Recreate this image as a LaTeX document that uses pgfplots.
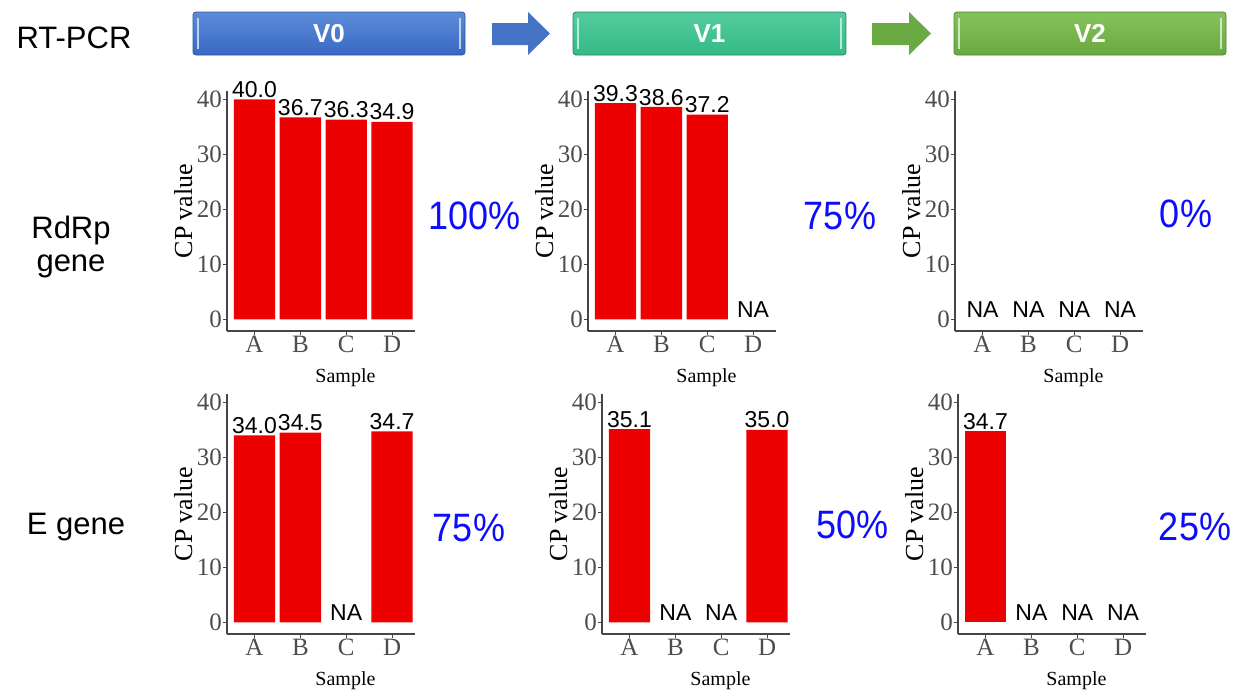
\documentclass[border=0pt]{standalone}
\usepackage{fontspec}
\setmainfont{Liberation Sans}
\newfontfamily\serif{Liberation Serif}
\usepackage{pgfplots}
\pgfplotsset{compat=1.18}
\usepackage{pgfplotstable}

\definecolor{barred}{RGB}{236,0,0}
\definecolor{pctblue}{RGB}{12,12,255}
\definecolor{tickgray}{RGB}{77,77,77}
\definecolor{axgray}{RGB}{70,70,70}
\definecolor{bluetop}{RGB}{92,140,216}
\definecolor{bluebot}{RGB}{56,104,196}
\definecolor{blueedge}{RGB}{47,85,151}
\definecolor{tealtop}{RGB}{84,204,158}
\definecolor{tealbot}{RGB}{52,186,134}
\definecolor{tealedge}{RGB}{40,130,95}
\definecolor{greentop}{RGB}{134,194,92}
\definecolor{greenbot}{RGB}{104,170,62}
\definecolor{greenedge}{RGB}{84,130,53}
\definecolor{arrowblue}{RGB}{68,114,196}
\definecolor{arrowgreen}{RGB}{106,170,66}

\newcommand\fs[1]{\fontsize{#1}{#1}\selectfont}

% RdRp gene
\pgfplotstableread{
x y lab
1 40.0 40.0
2 36.7 36.7
3 36.3 36.3
4 35.9 34.9
}\rAa
\pgfplotstableread{
x y lab
1 39.3 39.3
2 38.6 38.6
3 37.2 37.2
4 0 NA
}\rAb
\pgfplotstableread{
x y lab
1 0 NA
2 0 NA
3 0 NA
4 0 NA
}\rAc
% E gene
\pgfplotstableread{
x y lab
1 34.0 34.0
2 34.5 34.5
3 0 NA
4 34.7 34.7
}\rBa
\pgfplotstableread{
x y lab
1 35.1 35.1
2 0 NA
3 0 NA
4 35.0 35.0
}\rBb
\pgfplotstableread{
x y lab
1 34.7 34.7
2 0 NA
3 0 NA
4 0 NA
}\rBc

\pgfplotsset{cp/.style={
  width=188pt, height=240pt, scale only axis,
  anchor=south west,
  xmin=0.4, xmax=4.5, ymin=-2.1, ymax=41.5,
  axis x line*=bottom, axis y line*=left,
  axis line style={-, draw=axgray, line width=1.3pt},
  xtick={1,2,3,4}, xticklabels={A,B,C,D},
  ytick={0,10,20,30,40},
  tick align=outside, major tick length=4pt,
  major tick style={draw=axgray, line width=1pt},
  /pgf/number format/assume math mode=true,
  ticklabel style={font=\serif\fs{25}, text=tickgray},
  xticklabel style={inner sep=1pt},
  yticklabel style={inner sep=1pt},
  xlabel={Sample}, ylabel={CP value},
  xlabel style={font=\serif\fs{20}, at={(ticklabel cs:0.63)}, anchor=near ticklabel, yshift=-11pt},
  ylabel style={font=\serif\fs{26}, yshift=0pt},
  clip=false,
  point meta=explicit symbolic,
}}
\pgfplotsset{
  cpbar/.style={ybar, bar width=0.9, bar shift=0pt, fill=barred, draw=none,
    restrict y to domain=0.5:100},
  cplab/.style={ybar, bar width=0.9, bar shift=0pt, fill=none, draw=none,
    nodes near coords,
    every node near coord/.style={font=\fs{23}, text=black, anchor=south, inner sep=1.5pt}}}
\newcommand\cpplot[1]{%
  \addplot[cpbar] table[x=x,y=y,meta=lab]{#1};
  \addplot[cplab] table[x=x,y=y,meta=lab]{#1};}

\begin{document}
\begin{tikzpicture}
\path[use as bounding box] (0,0) rectangle (1234pt,-689pt);

\begin{scope}[x=1pt,y=-1pt]
  % header
  \node[font=\fs{31}] at (74,38) {RT-PCR};
  % V0
  \shade[top color=bluetop, bottom color=bluebot, rounded corners=3pt] (193,12) rectangle (465,55);
  \draw[blueedge, line width=0.8pt, rounded corners=3pt] (193,12) rectangle (465,55);
  \draw[line width=2pt, color=white!60!bluetop] (198,18) -- (198,49);
  \draw[line width=2pt, color=white!60!bluetop] (460,18) -- (460,49);
  \node[font=\bfseries\fs{26}, text=white] at (329,33.5) {V0};
  % arrow 1
  \fill[arrowblue] (492,23) -- (528,23) -- (528,12) -- (550,33.5) -- (528,55) -- (528,45) -- (492,45) -- cycle;
  % V1
  \shade[top color=tealtop, bottom color=tealbot, rounded corners=3pt] (573,12) rectangle (846,55);
  \draw[tealedge, line width=0.8pt, rounded corners=3pt] (573,12) rectangle (846,55);
  \draw[line width=2pt, color=white!60!tealtop] (578,18) -- (578,49);
  \draw[line width=2pt, color=white!60!tealtop] (841,18) -- (841,49);
  \node[font=\bfseries\fs{26}, text=white] at (709.5,33.5) {V1};
  % arrow 2
  \fill[arrowgreen] (872,23) -- (909,23) -- (909,12) -- (931,33.5) -- (909,55) -- (909,45) -- (872,45) -- cycle;
  % V2
  \shade[top color=greentop, bottom color=greenbot, rounded corners=3pt] (954,12) rectangle (1226,55);
  \draw[greenedge, line width=0.8pt, rounded corners=3pt] (954,12) rectangle (1226,55);
  \draw[line width=2pt, color=white!60!greentop] (959,18) -- (959,49);
  \draw[line width=2pt, color=white!60!greentop] (1221,18) -- (1221,49);
  \node[font=\bfseries\fs{26}, text=white] at (1090,33.5) {V2};

  % row labels
  \node[font=\fs{31}] at (71,230) {RdRp};
  \node[font=\fs{31}] at (71,266) {gene};
  \node[font=\fs{31}] at (76,527) {E gene};

  % percentages
  \begin{scope}[every node/.style={font=\fs{36}, text=pctblue, yscale=1.1, transform shape}]
  \node at (474.5,216) {100\%};
  \node at (840,216) {75\%};
  \node at (1186,214) {0\%};
  \node at (469,528) {75\%};
  \node at (852.5,525) {50\%};
  \node at (1195,527) {25\%};
  \end{scope}
\end{scope}

% RdRp row
\begin{axis}[cp, at={(227pt,-331pt)}]
  \cpplot{\rAa}
\end{axis}
\begin{axis}[cp, at={(588pt,-331pt)}]
  \cpplot{\rAb}
\end{axis}
\begin{axis}[cp, at={(955pt,-331pt)}]
  \cpplot{\rAc}
\end{axis}
% E gene row
\begin{axis}[cp, at={(227pt,-634pt)}]
  \cpplot{\rBa}
\end{axis}
\begin{axis}[cp, at={(602pt,-634pt)}]
  \cpplot{\rBb}
\end{axis}
\begin{axis}[cp, at={(958pt,-634pt)}]
  \cpplot{\rBc}
\end{axis}
\end{tikzpicture}
\end{document}
